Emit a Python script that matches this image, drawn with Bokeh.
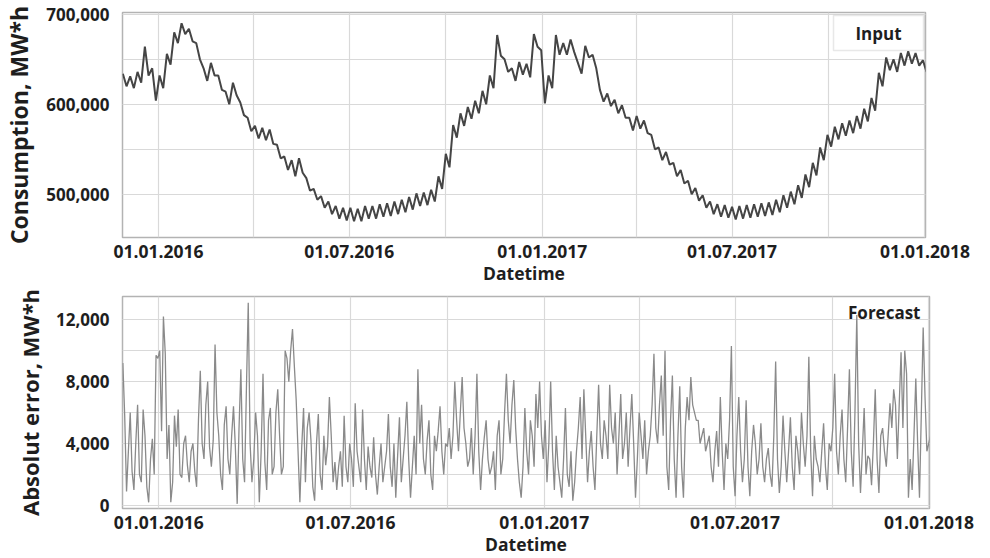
import pandas as pd
from bokeh.plotting import figure
from bokeh.layouts import column
from bokeh.models import (FixedTicker, SingleIntervalTicker, NumeralTickFormatter,
                          DatetimeTickFormatter, Label, BoxAnnotation, Range1d)
from bokeh.embed import file_html
from bokeh.resources import INLINE

# ---------------- data ----------------
# Consumption, thousands of MW*h, one value every half week starting 28.11.2015
consumption_k = [
    634, 620, 631, 618, 636, 624, 664, 632, 640, 604,
    632, 618, 656, 644, 680, 668, 690, 678, 684, 670,
    668, 650, 640, 626, 646, 632, 632, 616, 614, 600,
    624, 610, 602, 588, 585, 570, 576, 562, 574, 560,
    572, 556, 555, 540, 542, 527, 538, 520, 540, 524,
    518, 504, 506, 494, 498, 485, 492, 478, 487, 473,
    485, 471, 485, 470, 484, 470, 487, 473, 487, 473,
    489, 475, 490, 476, 492, 478, 494, 480, 497, 483,
    501, 487, 502, 488, 505, 492, 520, 506, 545, 530,
    577, 563, 590, 576, 597, 584, 604, 590, 615, 600,
    632, 618, 677, 654, 650, 636, 640, 626, 647, 633,
    645, 630, 678, 664, 660, 601, 632, 618, 677, 655,
    668, 655, 672, 658, 646, 634, 665, 652, 655, 640,
    616, 603, 612, 598, 605, 590, 599, 585, 585, 571,
    587, 573, 582, 568, 566, 550, 552, 538, 547, 533,
    535, 520, 527, 512, 515, 500, 507, 493, 499, 485,
    492, 478, 489, 475, 488, 474, 486, 472, 487, 473,
    488, 474, 489, 475, 490, 476, 491, 477, 494, 480,
    499, 485, 503, 489, 510, 496, 522, 508, 535, 521,
    552, 538, 566, 553, 575, 561, 579, 565, 582, 568,
    587, 573, 595, 581, 607, 593, 635, 620, 652, 638,
    650, 636, 657, 643, 659, 645, 657, 643, 649, 636,
]

# Absolute forecast error, MW*h, read every half week starting 28.11.2015 ...
abs_error = [
    9200, 900, 6000, 1000, 6500, 1500, 4500, 200, 4300, 9700,
    10000, 12200, 3000, 200, 5800, 6200, 1800, 4500, 1500, 4000,
    1200, 8700, 3000, 8000, 2500, 10400, 4500, 1000, 6400, 2000,
    6400, 100, 8800, 1500, 13100, 1500, 6000, 200, 8500, 1000,
    6300, 2500, 7500, 2000, 10000, 8000, 11400, 6800, 200, 6300,
    5000, 4200, 300, 5900, 1000, 2600, 7000, 1500, 1000, 3500,
    5800, 1500, 3000, 6600, 2500, 6200, 1000, 2500, 4400, 700,
    4000, 2500, 5900, 1200, 500, 5700, 3000, 6700, 500, 4500,
    8800, 6500, 2000, 5500, 1000, 3500, 6400, 2000, 3800, 3000,
    8000, 3500, 8300, 4000, 3000, 2000, 8500, 1000, 4400, 3000,
    2500, 1000, 5500, 3000, 8500, 4000, 8100, 3000, 500, 6300,
    2000, 4500, 7200, 8000, 3000, 1500, 8000, 1000, 2500, 500,
    6300, 1200, 300, 3500, 7000, 7500, 1500, 4800, 1000, 7800,
    3000, 4500, 7800, 4000, 2000, 7200, 4000, 2500, 7200, 500,
    6000, 3000, 2000, 4500, 9800, 4000, 8400, 10000, 1000, 8400,
    500, 7700, 500, 7000, 8300, 6000, 5500, 4500, 3500, 4500,
    1500, 4800, 7000, 1000, 3000, 10300, 600, 7000, 1500, 6800,
    600, 5200, 2000, 5300, 1500, 3700, 1200, 9300, 800, 5800,
    1500, 5700, 1000, 3500, 6000, 2500, 9600, 600, 3000, 1500,
    5300, 1000, 3500, 8500, 2000, 6200, 1500, 8800, 1200, 12300,
    800, 6300, 3200, 1300, 7500, 800, 5000, 2500, 6600, 7500,
    3000, 9900, 10000, 500, 1000, 8200, 500, 11500, 3500, 4500,
]
# ... and the values read in between those half-week readings
abs_error_mid = [
    5800, 3500, 2200, 4000, 2000, 6200, 1200, 3000, 2000, 9500,
    4800, 9800, 5200, 1500, 3800, 2000, 4000, 2600, 3500, 2200,
    5500, 4000, 6500, 3800, 4200, 6000, 2000, 5200, 3000, 4500,
    3800, 5000, 3000, 7500, 4000, 3000, 4500, 3500, 2800, 5500,
    2000, 6000, 4500, 2500, 9500, 10000, 9000, 3500, 3800, 1500,
    6000, 1200, 4000, 2000, 4500, 3800, 4500, 2800, 2500, 1200,
    2500, 4000, 1200, 3500, 1500, 3000, 3800, 1800, 2000, 2500,
    1500, 3500, 2500, 4000, 3200, 1500, 4500, 3000, 2500, 2000,
    4000, 3000, 4200, 2000, 4500, 4800, 3500, 4000, 5000, 4500,
    5500, 6000, 5000, 2500, 5000, 4500, 3500, 3000, 5500, 2000,
    3500, 4500, 2000, 6000, 5500, 6500, 5000, 1500, 2500, 3500,
    5500, 2500, 5000, 4500, 5500, 4000, 3500, 4500, 1500, 3000,
    2000, 3500, 1500, 5000, 3000, 4500, 3500, 2500, 4500, 4000,
    5500, 3000, 5000, 6000, 4500, 3000, 6000, 5000, 4000, 3000,
    4500, 5500, 3500, 6500, 5000, 6500, 4500, 2500, 5500, 3000,
    4500, 2500, 5000, 5500, 6500, 5500, 4000, 5000, 4000, 2500,
    3500, 2500, 3500, 4000, 5500, 2500, 4500, 3500, 3000, 2500,
    3500, 4000, 3000, 2500, 3000, 2000, 4500, 3000, 2500, 3500,
    3500, 2500, 4500, 2000, 4000, 4500, 3500, 4500, 2500, 3500,
    2500, 4000, 5000, 3500, 4500, 3000, 5000, 3500, 6000, 4000,
    3500, 2000, 3000, 4000, 3000, 4500, 3500, 4500, 5000, 6500,
    6500, 5000, 8500, 3000, 4500, 4000, 6000, 7000, 4000, 3500,
]

label_dates = ["2016-01-01", "2016-07-01", "2017-01-01", "2017-07-01", "2018-01-01"]
grid_dates = ["2016-04-01", "2016-10-01", "2017-04-01", "2017-10-01"]

consumption = [v * 1000 for v in consumption_k]
dates_c = pd.date_range("2015-11-28", periods=len(consumption), freq="84h")

error = []
for a, b in zip(abs_error, abs_error_mid):
    error.extend([a, b])
dates_e = pd.date_range("2015-11-28", periods=len(error), freq="42h")

# ---------------- styling helpers ----------------
FONT = "Open Sans"
GRID = "#d9d9d9"
TXT = "#1e1e1e"
X_START = pd.Timestamp("2015-11-27 16:00")
X_END = pd.Timestamp("2018-01-01 12:00")


def ms(ts):
    return pd.Timestamp(ts).value / 1e6


def style(p, fmt_y, ylabel_size):
    p.outline_line_color = "#b3b3b3"
    p.outline_line_width = 1.5
    p.background_fill_color = "white"
    p.border_fill_color = "white"
    for ax in (p.xaxis[0], p.yaxis[0]):
        ax.axis_line_color = None
        ax.major_tick_line_color = None
        ax.minor_tick_line_color = None
        ax.major_label_text_font = FONT
        ax.major_label_text_font_style = "bold"
        ax.major_label_text_color = TXT
        ax.axis_label_text_font = FONT
        ax.axis_label_text_font_style = "bold"
        ax.axis_label_text_color = TXT
    xa = p.xaxis[0]
    xa.ticker = FixedTicker(ticks=[ms(d) for d in label_dates],
                            minor_ticks=[ms(d) for d in grid_dates])
    f = "%d.%m.%Y"
    xa.formatter = DatetimeTickFormatter(days=f, months=f, years=f, hours=f,
                                         hourmin=f, minutes=f, minsec=f,
                                         seconds=f, milliseconds=f, microseconds=f)
    xa.major_label_text_font_size = "17.5px"
    xa.major_label_standoff = 1
    xa.axis_label = "Datetime"
    xa.axis_label_text_font_size = "17.5px"
    xa.axis_label_standoff = 0
    ya = p.yaxis[0]
    ya.formatter = NumeralTickFormatter(format=fmt_y)
    ya.major_label_text_font_size = "17px"
    ya.major_label_standoff = 7
    ya.axis_label_text_font_size = ylabel_size
    ya.axis_label_standoff = 8
    for g in (p.xgrid[0], p.ygrid[0]):
        g.grid_line_color = GRID
        g.grid_line_width = 1.2
        g.minor_grid_line_color = GRID
        g.minor_grid_line_width = 1.2


# ---------------- top: consumption ----------------
top_y0, top_y1 = 452000, 702000
p1 = figure(x_axis_type="datetime", output_backend="svg", toolbar_location=None,
            frame_width=803, frame_height=225,
            min_border_left=122, min_border_right=49,
            min_border_top=12, min_border_bottom=48,
            x_range=Range1d(X_START, X_END), y_range=Range1d(top_y0, top_y1))
p1.yaxis[0].ticker = SingleIntervalTicker(interval=100000, num_minor_ticks=2)
style(p1, "0,0", "23px")
p1.yaxis[0].axis_label = "Consumption, MW*h"
p1.line(dates_c, consumption, line_color="#454545", line_width=2)

# "Input" legend box
x_per_px1 = (ms(X_END) - ms(X_START)) / 803
y_per_px1 = (top_y1 - top_y0) / 225
p1.add_layout(BoxAnnotation(left=ms(X_START) + 711 * x_per_px1,
                            right=ms(X_START) + 801 * x_per_px1,
                            top=top_y1 - 3 * y_per_px1,
                            bottom=top_y1 - 38 * y_per_px1,
                            fill_color="white", fill_alpha=1.0,
                            line_color="#b3b3b3", line_width=1.5))
p1.add_layout(Label(x=ms(X_START) + 756 * x_per_px1, y=top_y1 - 20.5 * y_per_px1,
                    text="Input", text_align="center", text_baseline="middle",
                    text_font=FONT, text_font_style="bold", text_font_size="17px",
                    text_color=TXT))

# ---------------- bottom: absolute error ----------------
bot_y0, bot_y1 = -200, 13500
p2 = figure(x_axis_type="datetime", output_backend="svg", toolbar_location=None,
            frame_width=807, frame_height=212,
            min_border_left=120, min_border_right=47,
            min_border_top=9, min_border_bottom=40,
            x_range=Range1d(X_START, X_END), y_range=Range1d(bot_y0, bot_y1))
p2.yaxis[0].ticker = SingleIntervalTicker(interval=4000, num_minor_ticks=2)
style(p2, "0,0", "22px")
p2.yaxis[0].axis_label = "Absolut error, MW*h"
p2.line(dates_e, error, line_color="#8a8a8a", line_width=1.3)

x_per_px2 = (ms(X_END) - ms(X_START)) / 807
y_per_px2 = (bot_y1 - bot_y0) / 212
p2.add_layout(Label(x=ms(X_START) + 798 * x_per_px2, y=bot_y1 - 16 * y_per_px2,
                    text="Forecast", text_align="right", text_baseline="middle",
                    text_font=FONT, text_font_style="bold", text_font_size="17px",
                    text_color=TXT))

layout = column(p1, p2, spacing=0)
open("out.html", "w").write(file_html(layout, INLINE))
